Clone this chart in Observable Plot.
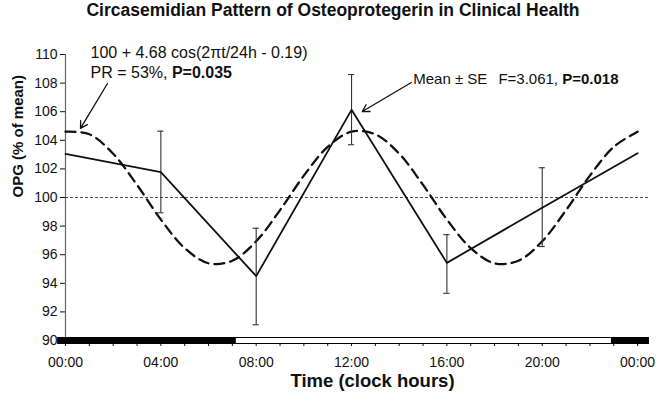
<!DOCTYPE html>
<html>
<head>
<meta charset="utf-8">
<script src="https://cdn.jsdelivr.net/npm/d3@7"></script>
<script src="https://cdn.jsdelivr.net/npm/@observablehq/plot@0.6"></script>
<style>
  body { margin: 0; background: #fff; }
  #title { width: 662px; height: 30px; line-height: 30px; text-align: center; font: bold 17.5px "Liberation Sans", Arial, sans-serif; color: #111; padding-left: 4px; box-sizing: border-box; }
</style>
</head>
<body>
<div id="title">Circasemidian Pattern of Osteoprotegerin in Clinical Health</div>
<div id="chart"></div>
<script>
// Observed means (% of mean) at sampling clock hours
const hours = [0, 4, 8, 12, 16, 20, 24];
const meanOPG = [103.05, 101.77, 94.5, 106.13, 95.43, 99.28, 103.1];
const seLow = [null, 98.93, 91.1, 103.69, 93.3, 96.57, null];
const seHigh = [null, 104.64, 97.85, 108.6, 97.4, 102.08, null];

// Fitted cosine curve
const fitHours = [0,1,2,3,4,5,6,7,8,9,10,11,12,13,14,15,16,17,18,19,20,21,22,23,24];
const fitOPG = [104.60,104.42,103.06,100.88,98.46,96.46,95.40,95.58,96.94,99.12,101.53,103.54,
                104.60,104.42,103.06,100.88,98.46,96.46,95.40,95.58,96.94,99.12,101.53,103.54,104.60];

// Light/dark span (dark = sleep)
const spanStart = [-0.33, 7.17, 22.9];
const spanEnd = [7.17, 22.9, 24.5];
const spanDark = [true, false, true];

// Tick labels
const xTicks = [0, 4, 8, 12, 16, 20, 24];
const xTickLabels = ["00:00", "04:00", "08:00", "12:00", "16:00", "20:00", "00:00"];
const yTicks = [90, 92, 94, 96, 98, 100, 102, 104, 106, 108, 110];

// Annotations
const fitNoteText = ["100 + 4.68 cos(2πt/24h - 0.19)", "PR = 53%, P=0.035"];
const fitNoteX = [1.05, 1.05];
const fitNoteY = [110.09, 108.72];
const meanNoteText = ["Mean ± SE", "F=3.061, P=0.018"];
const meanNoteX = [14.59, 18.16];
const meanNoteY = [108.25, 108.25];
const arrowFrom = [[1.76, 107.97], [14.51, 108.04]];
const arrowTo = [[0.63, 104.83], [12.45, 106.01]];

const means = hours.map((t, i) => ({t, v: meanOPG[i]}));
const errs = hours.map((t, i) => ({t, lo: seLow[i], hi: seHigh[i]})).filter(d => d.lo != null);
const fit = fitHours.map((t, i) => ({t, v: fitOPG[i]}));
const spans = spanStart.map((s, i) => ({s, e: spanEnd[i], dark: spanDark[i], y: 90}));
const fitNotes = fitNoteText.map((text, i) => ({text, x: fitNoteX[i], y: fitNoteY[i]}));
const meanNotes = meanNoteText.map((text, i) => ({text, x: meanNoteX[i], y: meanNoteY[i]}));
const arrows = arrowFrom.map((f, i) => ({x1: f[0], y1: f[1], x2: arrowTo[i][0], y2: arrowTo[i][1]}));
const capHalf = 0.13;

const plot = Plot.plot({
  width: 662,
  height: 372,
  marginTop: 24,
  marginBottom: 62,
  marginLeft: 65,
  marginRight: 13,
  style: {fontFamily: "'Liberation Sans', Arial, sans-serif", fontSize: "14px", color: "#111", background: "#fff"},
  x: {domain: [0, 24.5]},
  y: {domain: [90, 110]},
  marks: [
    Plot.axisY({ticks: yTicks, tickSize: 5, tickPadding: 3, label: null, fontSize: 14}),
    Plot.axisX({ticks: fitHours, tickSize: 6, tickFormat: () => "", label: null}),
    Plot.axisX({ticks: xTicks, tickSize: 0, tickPadding: 17, tickFormat: (d) => xTickLabels[xTicks.indexOf(d)], label: null, fontSize: 14}),
    Plot.ruleX([0], {stroke: "#666", strokeWidth: 1.2}),
    Plot.ruleY([100], {x1: 0, x2: 24.5, stroke: "#222", strokeWidth: 0.8, strokeDasharray: "3,2"}),
    Plot.ruleY(spans, {y: "y", x1: "s", x2: "e", stroke: "#000", strokeWidth: 7}),
    Plot.ruleY(spans.filter(d => !d.dark), {y: "y", x1: "s", x2: "e", stroke: "#fff", strokeWidth: 5}),
    Plot.line(fit, {x: "t", y: "v", curve: "catmull-rom", stroke: "#111", strokeWidth: 2.3, strokeDasharray: "10,6"}),
    Plot.ruleX(errs, {x: "t", y1: "lo", y2: "hi", stroke: "#333", strokeWidth: 1.1}),
    Plot.ruleY(errs, {y: "hi", x1: d => d.t - capHalf, x2: d => d.t + capHalf, stroke: "#333", strokeWidth: 1.1}),
    Plot.ruleY(errs, {y: "lo", x1: d => d.t - capHalf, x2: d => d.t + capHalf, stroke: "#333", strokeWidth: 1.1}),
    Plot.line(means, {x: "t", y: "v", stroke: "#111", strokeWidth: 1.8}),
    Plot.arrow(arrows, {x1: "x1", y1: "y1", x2: "x2", y2: "y2", stroke: "#111", strokeWidth: 1.3, headLength: 9, bend: false}),
    Plot.text(fitNotes, {x: "x", y: "y", text: "text", textAnchor: "start", lineAnchor: "middle", fontSize: 16, fill: "#111"}),
    Plot.text(meanNotes, {x: "x", y: "y", text: "text", textAnchor: "start", lineAnchor: "middle", fontSize: 15, fill: "#111"}),
    Plot.text(["OPG (% of mean)"], {frameAnchor: "left", rotate: -90, dx: -47, fontWeight: "bold", fontSize: 15, fill: "#111"}),
    Plot.text(["Time (clock hours)"], {frameAnchor: "bottom", dx: 15, dy: 46, fontWeight: "bold", fontSize: 18.5, fill: "#111"})
  ]
});

// Bold the P-values inside annotation text
d3.select(plot).selectAll("text").each(function() {
  const el = this;
  if (el.children.length === 0) {
    const s = el.textContent;
    const k = s.indexOf("P=0.0");
    if (k >= 0) {
      el.textContent = "";
      const a = document.createElementNS("http://www.w3.org/2000/svg", "tspan");
      a.textContent = s.slice(0, k);
      const b = document.createElementNS("http://www.w3.org/2000/svg", "tspan");
      b.textContent = s.slice(k);
      b.setAttribute("font-weight", "bold");
      el.appendChild(a); el.appendChild(b);
    }
  }
});

document.getElementById("chart").appendChild(plot);
</script>
</body>
</html>
